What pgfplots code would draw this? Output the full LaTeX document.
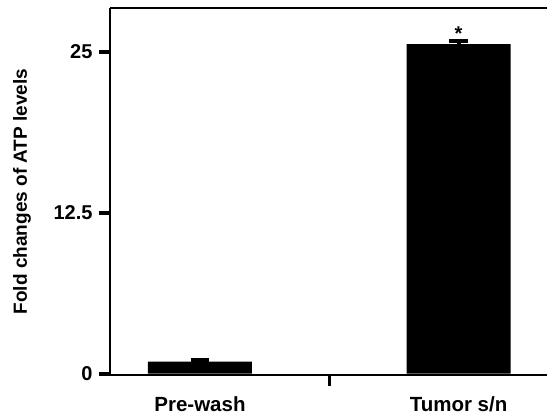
\documentclass[border=0pt]{standalone}
\usepackage{fontspec}
\setmainfont{Liberation Sans}
\usepackage{pgfplots}
\pgfplotsset{compat=1.18}
\begin{document}
\begin{tikzpicture}
\fontsize{19}{23}\selectfont\bfseries
\begin{axis}[
  scale only axis, width=437pt, height=367pt,
  axis x line=box, axis y line=left,
  axis line style={line width=2.5pt, -},
  xmin=-0.348, xmax=1.342, ymin=-0.1, ymax=28.4,
  ytick={0,12.5,25}, yticklabels={0,12.5,25},
  xtick={0.5}, xticklabels={},
  xtick pos=left,
  x tick style={line width=3.5pt, black},
  extra x ticks={0,1}, extra x tick labels={Pre-wash,Tumor s/n},
  extra x tick style={major tick length=0pt, xticklabel style={yshift=-15pt}},
  tick align=outside,
  y tick style={line width=4pt, black},
  major tick length=11pt,
  /pgf/number format/assume math mode=true,
  ticklabel style={font=\fontsize{20}{23}\selectfont\bfseries},
  xticklabel style={font=\fontsize{20.5}{24}\selectfont\bfseries},
  ylabel={Fold changes of ATP levels},
  ylabel style={font=\fontsize{19}{23}\selectfont\bfseries, at={(rel axis cs:0,0.5)}, anchor=center, rotate=0, yshift=88pt},
  ybar, bar width=104pt,
]
\addplot[fill=black, draw=none,
  error bars/.cd, y dir=plus, y explicit,
  error bar style={line width=4pt},
  error mark options={rotate=90, mark size=9.3pt, line width=4pt}]
  coordinates {(0,0.93) +- (0,0.12) (1,25.6) +- (0,0.25)};
\node[font=\fontsize{20}{22}\selectfont\bfseries] at (axis cs:1,26.4) {*};
\coordinate (bl) at (rel axis cs:0,0);
\coordinate (tr) at (rel axis cs:1,1);
\end{axis}
\pgfresetboundingbox
\path[use as bounding box] ([shift={(-110pt,-42.7pt)}]bl) rectangle ([shift={(0pt,8pt)}]tr);
\end{tikzpicture}
\end{document}
